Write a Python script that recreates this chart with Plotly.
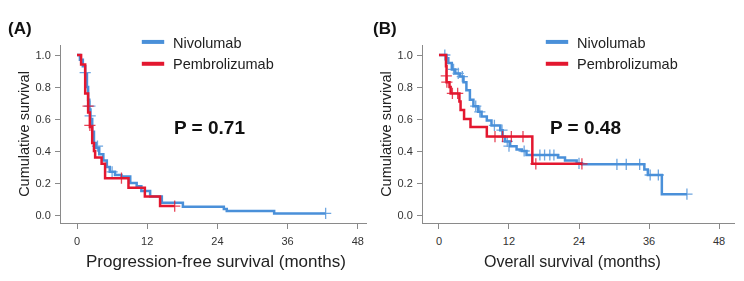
import plotly.graph_objects as go

# ---------------- data ----------------
# Panel A: progression-free survival
pfs_nivo_t = [0, 0.5, 1.0, 1.4, 1.7, 1.9, 2.1, 2.3, 2.6, 2.9, 3.2, 3.8, 4.5, 5.1, 5.6, 6.5, 7.6, 9.1, 10.2, 11.0, 12.5, 14.5, 18.1, 25.1, 25.6, 33.7, 42.5]
pfs_nivo_s = [1.0, 0.97, 0.93, 0.88, 0.80, 0.72, 0.66, 0.60, 0.52, 0.45, 0.42, 0.38, 0.34, 0.30, 0.27, 0.25, 0.24, 0.20, 0.18, 0.15, 0.115, 0.077, 0.052, 0.038, 0.025, 0.01, 0.01]
pfs_nivo_cens_t = [1.4, 2.2, 2.25, 3.5, 6.0, 42.5]
pfs_nivo_cens_s = [0.89, 0.68, 0.62, 0.43, 0.27, 0.01]

pfs_pemb_t = [0, 0.7, 1.4, 1.9, 2.2, 2.6, 2.9, 3.1, 4.2, 4.8, 8.8, 11.6, 14.2, 16.7]
pfs_pemb_s = [1.0, 0.94, 0.76, 0.64, 0.55, 0.45, 0.40, 0.36, 0.32, 0.23, 0.17, 0.115, 0.056, 0.056]
pfs_pemb_cens_t = [1.9, 2.2, 7.6, 16.7]
pfs_pemb_cens_s = [0.68, 0.56, 0.23, 0.056]

# Panel B: overall survival
os_nivo_t = [0, 1.3, 1.6, 2.2, 2.8, 3.6, 4.2, 4.7, 5.3, 5.9, 6.7, 7.3, 8.2, 9.0, 10.5, 10.9, 11.3, 12.2, 13.3, 14.2, 15.0, 20.4, 21.6, 23.6, 24.5, 35.2, 35.8, 38.2, 42.5]
os_nivo_s = [1.0, 0.98, 0.95, 0.91, 0.885, 0.865, 0.83, 0.78, 0.72, 0.68, 0.645, 0.615, 0.59, 0.56, 0.53, 0.49, 0.46, 0.43, 0.41, 0.40, 0.375, 0.36, 0.34, 0.323, 0.317, 0.285, 0.25, 0.13, 0.13]
os_nivo_cens_t = [1.0, 2.5, 3.3, 4.0, 6.3, 7.0, 9.5, 10.8, 11.7, 12.0, 14.6, 17.3, 18.1, 19.0, 19.7, 24.0, 30.5, 32.1, 34.4, 36.2, 37.6, 42.5]
os_nivo_cens_s = [1.0, 0.91, 0.885, 0.865, 0.68, 0.645, 0.56, 0.53, 0.46, 0.43, 0.40, 0.375, 0.375, 0.375, 0.375, 0.323, 0.317, 0.317, 0.317, 0.25, 0.25, 0.13]

os_pemb_t = [0, 1.2, 1.3, 1.8, 2.0, 3.5, 3.7, 4.3, 5.4, 8.2, 16.0, 24.5]
os_pemb_s = [1.0, 0.93, 0.83, 0.80, 0.76, 0.71, 0.656, 0.60, 0.55, 0.49, 0.32, 0.32]
os_pemb_cens_t = [1.25, 1.35, 2.3, 3.2, 9.6, 10.9, 12.4, 14.4, 16.6, 24.5]
os_pemb_cens_s = [0.87, 0.83, 0.76, 0.76, 0.49, 0.49, 0.49, 0.49, 0.32, 0.32]

x_ticks = [0, 12, 24, 36, 48]
y_ticks = [0.0, 0.2, 0.4, 0.6, 0.8, 1.0]
group_names = ["Nivolumab", "Pembrolizumab"]
p_values = ["P = 0.71", "P = 0.48"]
panel_labels = ["(A)", "(B)"]
x_titles = ["Progression-free survival (months)", "Overall survival (months)"]

# ---------------- styling ----------------
BLUE = "#4a90d9"
RED = "#e3172f"
FONT = "Arial, Liberation Sans, sans-serif"
OFF = 8                      # page body margin
W, H = 744 - OFF, 281 - OFF  # figure fills the visible window

fig = go.Figure()

panels = [
    ("x", "y", "legend", [(pfs_nivo_t, pfs_nivo_s, pfs_nivo_cens_t, pfs_nivo_cens_s),
                          (pfs_pemb_t, pfs_pemb_s, pfs_pemb_cens_t, pfs_pemb_cens_s)]),
    ("x2", "y2", "legend2", [(os_nivo_t, os_nivo_s, os_nivo_cens_t, os_nivo_cens_s),
                             (os_pemb_t, os_pemb_s, os_pemb_cens_t, os_pemb_cens_s)]),
]
colors = [BLUE, RED]

for xa, ya, leg, curves in panels:
    for gi, (t, s, ct, cs) in enumerate(curves):
        fig.add_trace(go.Scatter(
            x=t, y=s, mode="lines", line=dict(color=colors[gi], width=2.5, shape="hv"),
            name=group_names[gi], xaxis=xa, yaxis=ya, showlegend=False,
            hoverinfo="skip"))
        fig.add_trace(go.Scatter(
            x=ct, y=cs, mode="markers",
            marker=dict(symbol="cross-thin", size=8, line=dict(color=colors[gi], width=1.3)),
            xaxis=xa, yaxis=ya, showlegend=False, hoverinfo="skip", opacity=0.8))
    # legend entries (short thick swatches)
    for gi in range(2):
        fig.add_trace(go.Scatter(
            x=[None], y=[None], mode="markers", name=group_names[gi],
            marker=dict(symbol="line-ew", size=16, color=colors[gi], line=dict(color=colors[gi], width=4)),
            xaxis=xa, yaxis=ya, legend=leg, showlegend=True, hoverinfo="skip"))

def px_x(p):
    return (p - OFF) / W

def px_y(p):
    return 1 - (p - OFF) / H

axis_common = dict(showline=True, linecolor="#8a8a8a", linewidth=1, ticks="outside",
                   ticklen=5, tickcolor="#8a8a8a", showgrid=False, zeroline=False,
                   automargin=False,
                   tickfont=dict(family=FONT, size=11, color="#333333"))

yd = [px_y(223), px_y(45)]
ytitle_font = dict(family=FONT, size=14.5, color="#222222")
fig.update_layout(
    width=W, height=H, margin=dict(l=0, r=0, t=0, b=0, autoexpand=False),
    paper_bgcolor="white", plot_bgcolor="white",
    font=dict(family=FONT, color="#222222"),
    xaxis=dict(domain=[px_x(61), px_x(367)], range=[-2.735, 49.57], tickvals=x_ticks,
               anchor="y", ticklabelstandoff=3, **axis_common),
    yaxis=dict(domain=yd, range=[-0.05, 1.0625], tickvals=y_ticks, tickformat=".1f",
               anchor="x", ticklabelstandoff=2,
               title=dict(text="Cumulative survival", font=ytitle_font, standoff=2),
               **axis_common),
    xaxis2=dict(domain=[px_x(423), px_x(735)], range=[-2.74, 50.74], tickvals=x_ticks,
                anchor="y2", ticklabelstandoff=3, **axis_common),
    yaxis2=dict(domain=yd, range=[-0.05, 1.0625], tickvals=y_ticks, tickformat=".1f",
                anchor="x2", ticklabelstandoff=2,
                title=dict(text="Cumulative survival", font=ytitle_font, standoff=2),
                **axis_common),
    legend=dict(x=px_x(133), y=px_y(26), xanchor="left", yanchor="top",
                bgcolor="rgba(0,0,0,0)", font=dict(family=FONT, size=14.5, color="#222222"),
                tracegroupgap=0),
    legend2=dict(x=px_x(537), y=px_y(26), xanchor="left", yanchor="top",
                 bgcolor="rgba(0,0,0,0)", font=dict(family=FONT, size=14.5, color="#222222"),
                 tracegroupgap=0),
)

# x-axis titles
fig.add_annotation(x=px_x(216), y=px_y(261), xref="paper", yref="paper", text=x_titles[0],
                   showarrow=False, xanchor="center", yanchor="middle",
                   font=dict(family=FONT, size=17, color="#222222"))
fig.add_annotation(x=px_x(572.5), y=px_y(261), xref="paper", yref="paper", text=x_titles[1],
                   showarrow=False, xanchor="center", yanchor="middle",
                   font=dict(family=FONT, size=16, color="#222222"))

# P-value annotations and panel labels
fig.add_annotation(x=px_x(172), y=px_y(127), xref="paper", yref="paper", text="<b>" + p_values[0] + "</b>",
                   showarrow=False, xanchor="left", yanchor="middle", font=dict(size=19, color="#111111"))
fig.add_annotation(x=px_x(548), y=px_y(127), xref="paper", yref="paper", text="<b>" + p_values[1] + "</b>",
                   showarrow=False, xanchor="left", yanchor="middle", font=dict(size=19, color="#111111"))
fig.add_annotation(x=px_x(6), y=px_y(29), xref="paper", yref="paper", text="<b>" + panel_labels[0] + "</b>",
                   showarrow=False, xanchor="left", yanchor="middle", font=dict(size=17, color="#111111"))
fig.add_annotation(x=px_x(371), y=px_y(29), xref="paper", yref="paper", text="<b>" + panel_labels[1] + "</b>",
                   showarrow=False, xanchor="left", yanchor="middle", font=dict(size=17, color="#111111"))

fig.write_html("out.html")
